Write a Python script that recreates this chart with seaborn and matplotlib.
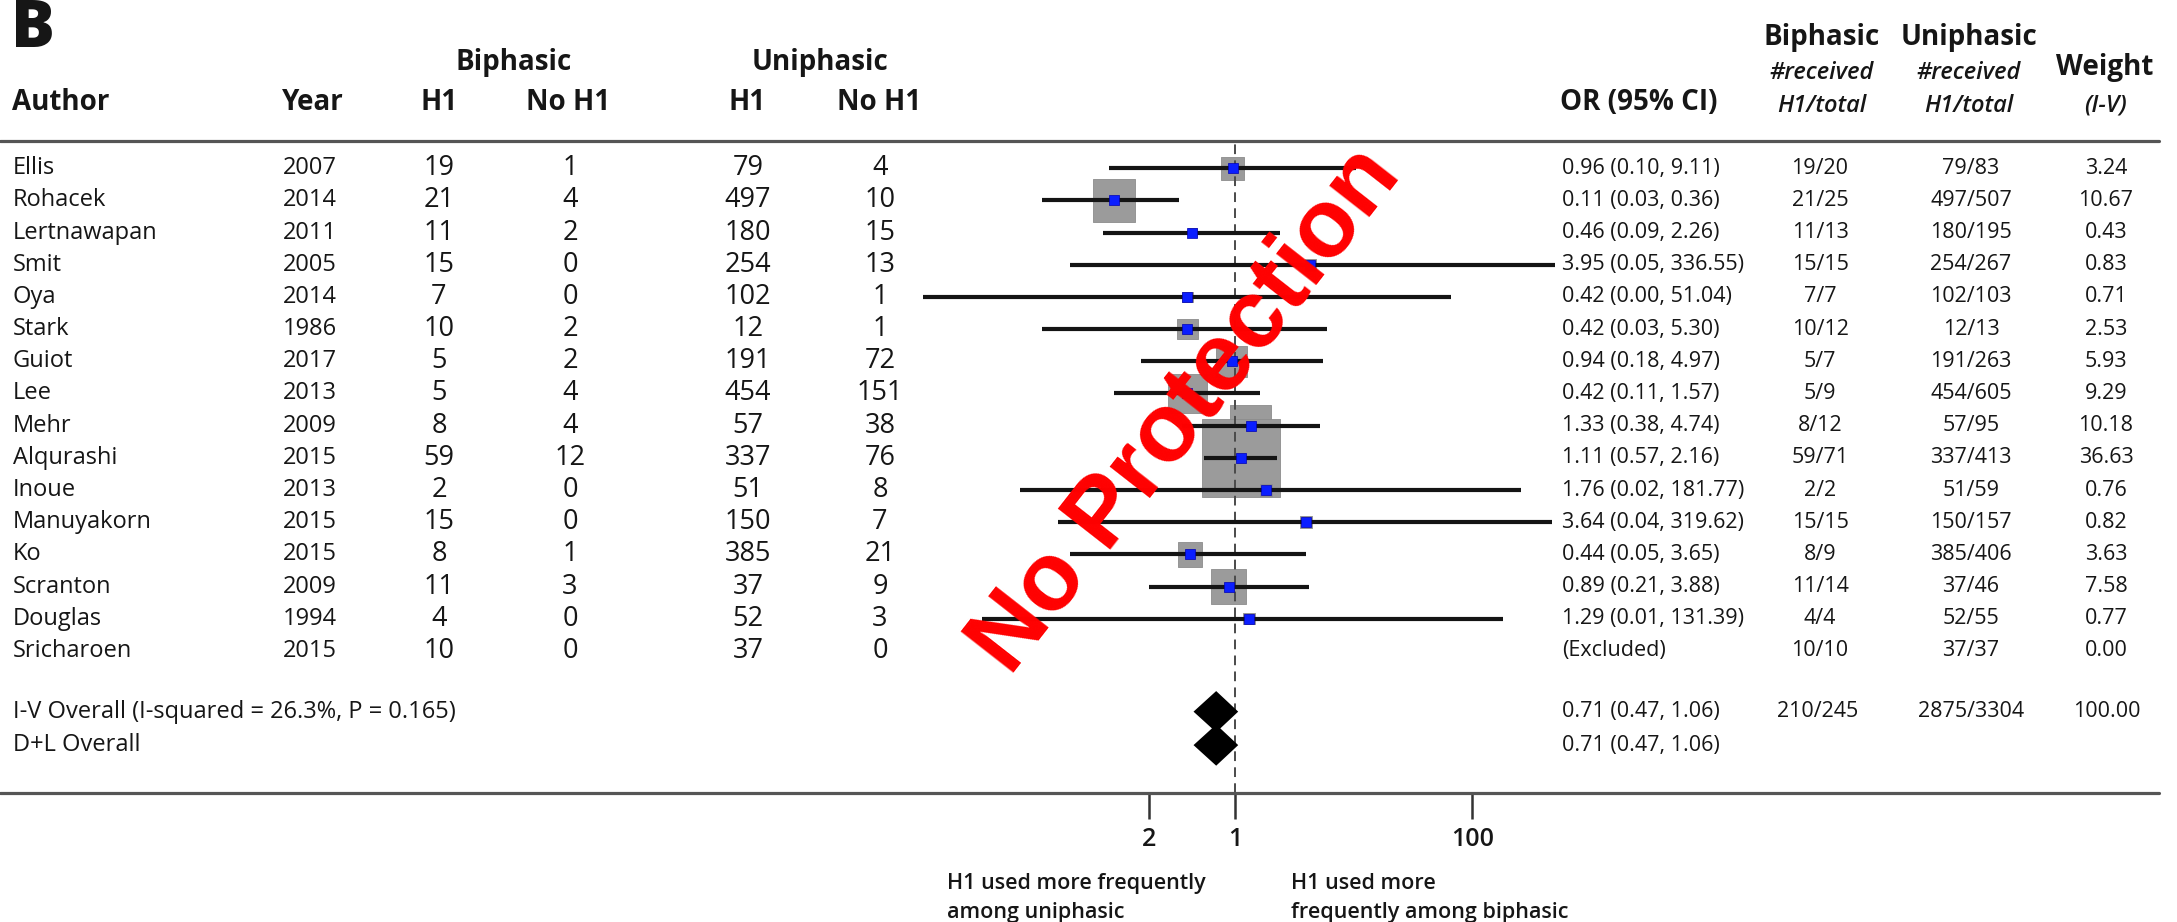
import numpy as np
import pandas as pd
import matplotlib
matplotlib.use("Agg")
import matplotlib.pyplot as plt
import seaborn as sns
from matplotlib.lines import Line2D
from matplotlib.transforms import blended_transform_factory

# ---------------- data ----------------
authors = ["Ellis", "Rohacek", "Lertnawapan", "Smit", "Oya", "Stark", "Guiot", "Lee",
           "Mehr", "Alqurashi", "Inoue", "Manuyakorn", "Ko", "Scranton", "Douglas", "Sricharoen"]
years = [2007, 2014, 2011, 2005, 2014, 1986, 2017, 2013, 2009, 2015, 2013, 2015, 2015, 2009, 1994, 2015]
bi_h1 = [19, 21, 11, 15, 7, 10, 5, 5, 8, 59, 2, 15, 8, 11, 4, 10]
bi_no_h1 = [1, 4, 2, 0, 0, 2, 2, 4, 4, 12, 0, 0, 1, 3, 0, 0]
uni_h1 = [79, 497, 180, 254, 102, 12, 191, 454, 57, 337, 51, 150, 385, 37, 52, 37]
uni_no_h1 = [4, 10, 15, 13, 1, 1, 72, 151, 38, 76, 8, 7, 21, 9, 3, 0]
odds_ratio = [0.96, 0.11, 0.46, 3.95, 0.42, 0.42, 0.94, 0.42, 1.33, 1.11, 1.76, 3.64, 0.44, 0.89, 1.29, np.nan]
ci_low = [0.10, 0.03, 0.09, 0.05, 0.0034, 0.03, 0.18, 0.11, 0.38, 0.57, 0.02, 0.04, 0.05, 0.21, 0.01, np.nan]
ci_high = [9.11, 0.36, 2.26, 336.55, 51.04, 5.30, 4.97, 1.57, 4.74, 2.16, 181.77, 319.62, 3.65, 3.88, 131.39, np.nan]
weights = [3.24, 10.67, 0.43, 0.83, 0.71, 2.53, 5.93, 9.29, 10.18, 36.63, 0.76, 0.82, 3.63, 7.58, 0.77, 0.00]

overall_labels = ["I-V Overall (I-squared = 26.3%, P = 0.165)", "D+L Overall"]
overall_or = [0.71, 0.71]
overall_low = [0.47, 0.47]
overall_high = [1.06, 1.06]
overall_weight_text = "100.00"

tick_values = [0.21, 1, 75]
tick_labels = ["2", "1", "100"]

# ---------------- style ----------------
sns.set_theme(style="white")
plt.rcParams["font.family"] = ["Open Sans", "DejaVu Sans"]
plt.rcParams["lines.scale_dashes"] = False
plt.rcParams["text.color"] = "#161616"

W, H, DPI = 2177, 922, 100
fig = plt.figure(figsize=(W / DPI, H / DPI), dpi=DPI)
fig.patch.set_facecolor("white")


def fx(px):
    return px / W


def fy(py):
    return 1 - py / H


TOP_RULE, BOTTOM_RULE = 141, 792.7
ROW0, ROW_STEP = 168.3, 32.17
X_LEFT, X_RIGHT = 900, 1560
X_ONE, PX_PER_DECADE = 1235, 126.5

ax = fig.add_axes([fx(X_LEFT), fy(BOTTOM_RULE), (X_RIGHT - X_LEFT) / W,
                   (BOTTOM_RULE - TOP_RULE) / H])
ax.patch.set_alpha(0)

n = len(authors)
df = pd.DataFrame({
    "author": authors, "year": years, "bi_h1": bi_h1, "bi_no": bi_no_h1,
    "uni_h1": uni_h1, "uni_no": uni_no_h1, "or_": odds_ratio,
    "lo": ci_low, "hi": ci_high, "weight": weights,
})
df["row"] = np.arange(n, dtype=float)
valid = df.dropna(subset=["or_"]).copy()
overall_rows = np.array([n + 0.89, n + 1.93])

# weight boxes (area proportional to study weight)
AREA_K = 86.0
wmin, wmax = valid["weight"].min(), valid["weight"].max()
sns.scatterplot(data=valid, x="or_", y="row", size="weight",
                sizes=(AREA_K * wmin, AREA_K * wmax), size_norm=(wmin, wmax),
                marker="s", color="#9b9b9b", edgecolor="#8c8c8c", linewidth=0.6,
                legend=False, ax=ax, zorder=2)

# null line
ax.axvline(1, color="#4a4a4a", lw=1.4, dashes=(7, 4.5), zorder=2.5)

# confidence intervals
ax.hlines(valid["row"], valid["lo"], valid["hi"], color="#141414", lw=3.0, zorder=3)

# point estimates
sns.scatterplot(data=valid, x="or_", y="row", marker="s", s=55, color="#0a1eff",
                edgecolor="#0000b4", linewidth=0.5, legend=False, ax=ax, zorder=4)

# pooled estimates
half_h = 0.64
for r, est, lo, hi in zip(overall_rows, overall_or, overall_low, overall_high):
    ax.fill([lo, est, hi, est], [r, r - half_h, r, r + half_h], color="black",
            lw=0, zorder=4)

ax.set_xscale("log")
ax.set_xlim(10 ** ((X_LEFT - X_ONE) / PX_PER_DECADE), 10 ** ((X_RIGHT - X_ONE) / PX_PER_DECADE))
ax.set_ylim((BOTTOM_RULE - ROW0) / ROW_STEP, (TOP_RULE - ROW0) / ROW_STEP)
for s in ax.spines.values():
    s.set_visible(False)
ax.set_xlabel("")
ax.set_ylabel("")
ax.set_yticks([])
ax.set_xticks(tick_values)
ax.set_xticks([], minor=True)
ax.set_xticklabels(tick_labels)
ax.tick_params(axis="x", bottom=True, direction="out", length=18.5, width=1.8,
               color="#333333", pad=6, labelsize=18, labelcolor="#161616")
for lbl in ax.get_xticklabels():
    lbl.set_fontweight("semibold")

# horizontal rules
for yy in (TOP_RULE, BOTTOM_RULE):
    fig.add_artist(Line2D([0, fx(2159)], [fy(yy), fy(yy)], color="#555555", lw=2.3,
                          transform=fig.transFigure))

# ---------------- table text ----------------
tr = blended_transform_factory(fig.transFigure, ax.transData)


def cell(xpx, row, txt, ha="left", size=17, **kw):
    ax.text(fx(xpx), row, txt, transform=tr, ha=ha, va="center", fontsize=size,
            clip_on=False, **kw)


for _, r in df.iterrows():
    y = r["row"]
    cell(13, y, r["author"], size=17)
    cell(283, y, str(r["year"]), size=17)
    cell(439, y, str(r["bi_h1"]), ha="center", size=19.5)
    cell(570, y, str(r["bi_no"]), ha="center", size=19.5)
    cell(748, y, str(r["uni_h1"]), ha="center", size=19.5)
    cell(880, y, str(r["uni_no"]), ha="center", size=19.5)
    if np.isnan(r["or_"]):
        or_txt = "(Excluded)"
    else:
        or_txt = f"{r['or_']:.2f} ({r['lo']:.2f}, {r['hi']:.2f})"
    cell(1562, y, or_txt, size=15.5)
    cell(1820, y, f"{r['bi_h1']}/{r['bi_h1'] + r['bi_no']}", ha="center", size=15.5)
    cell(1971, y, f"{r['uni_h1']}/{r['uni_h1'] + r['uni_no']}", ha="center", size=15.5)
    cell(2106, y, f"{r['weight']:.2f}", ha="center", size=15.5)

bi_tot_h1, bi_tot = sum(bi_h1), sum(bi_h1) + sum(bi_no_h1)
uni_tot_h1, uni_tot = sum(uni_h1), sum(uni_h1) + sum(uni_no_h1)
for i, (r, lab) in enumerate(zip(overall_rows, overall_labels)):
    cell(13, r, lab, size=17)
    cell(1562, r, f"{overall_or[i]:.2f} ({overall_low[i]:.2f}, {overall_high[i]:.2f})", size=15.5)
    if i == 0:
        cell(1818, r, f"{bi_tot_h1}/{bi_tot}", ha="center", size=15.5)
        cell(1971, r, f"{uni_tot_h1}/{uni_tot}", ha="center", size=15.5)
        cell(2107, r, overall_weight_text, ha="center", size=15.5)

# ---------------- headers ----------------
def head(xpx, ypx, txt, ha="left", size=20, weight="bold", style="normal"):
    fig.text(fx(xpx), fy(ypx), txt, ha=ha, va="center", fontsize=size,
             fontweight=weight, fontstyle=style)


head(11, 30, "B", size=47, weight="heavy")
head(513.6, 62.5, "Biphasic", ha="center")
head(819.7, 62.5, "Uniphasic", ha="center")
head(12, 103, "Author")
head(282, 103, "Year")
head(439, 103, "H1", ha="center")
head(568, 103, "No H1", ha="center")
head(747, 103, "H1", ha="center")
head(879, 103, "No H1", ha="center")
head(1560, 103, "OR (95% CI)")
head(1822, 38, "Biphasic", ha="center")
head(1969, 38, "Uniphasic", ha="center")
head(2105, 68, "Weight", ha="center")
for xc in (1822, 1969):
    head(xc, 73, "#received", ha="center", size=17, weight="semibold", style="italic")
    head(xc, 105.5, "H1/total", ha="center", size=17, weight="semibold", style="italic")
head(2105, 105.5, "(I-V)", ha="center", size=17, weight="semibold", style="italic")

# ---------------- direction notes ----------------
for xpx, lines in ((947, ["H1 used more frequently", "among uniphasic"]),
                   (1291, ["H1 used more", "frequently among biphasic"])):
    for k, line in enumerate(lines):
        head(xpx, 883 + 29 * k, line, size=15.5, weight="semibold")

# ---------------- watermark ----------------
fig.text(fx(1206), fy(426), "No Protection", rotation=52, rotation_mode="anchor",
         ha="center", va="baseline", fontsize=70, fontweight="bold",
         family=["Liberation Sans", "DejaVu Sans"], color="#ff0000", zorder=10)

fig.savefig("out.png", dpi=DPI, facecolor="white")
